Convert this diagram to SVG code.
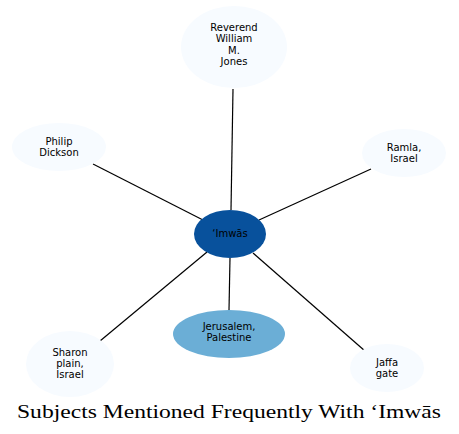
<svg xmlns="http://www.w3.org/2000/svg" width="459" height="434" viewBox="0 0 459 434">
<style>
.n text{font-family:"DejaVu Sans",sans-serif;font-size:10px;fill:#000;text-anchor:middle}
.light{fill:#f7fbff}
.e line{stroke:#000;stroke-width:1.2}
.title{font-family:"Liberation Serif",serif;font-size:19px;text-anchor:middle;fill:#000}
</style>
<rect width="459" height="434" fill="#fff"/>
<g class="e" id="edges">
<line x1="231" y1="210" x2="233" y2="89"/>
<line x1="203" y1="220" x2="93" y2="164"/>
<line x1="259" y1="220" x2="371" y2="169"/>
<line x1="207" y1="252" x2="100" y2="341"/>
<line x1="230" y1="258" x2="229" y2="310"/>
<line x1="253" y1="253" x2="365" y2="351"/>
</g>
<g class="n" id="n_imwas"><ellipse cx="230" cy="234" rx="36" ry="24" fill="#08519c"/><text x="230" y="237">‘Imwās</text></g>
<g class="n" id="n_jones"><ellipse class="light" cx="234" cy="47" rx="53" ry="41"/><text x="234" y="31">Reverend</text><text x="234" y="42">William</text><text x="234" y="53.5">M.</text><text x="234" y="65">Jones</text></g>
<g class="n" id="n_dickson"><ellipse class="light" cx="59" cy="147" rx="47" ry="24"/><text x="59" y="145">Philip</text><text x="59" y="156">Dickson</text></g>
<g class="n" id="n_ramla"><ellipse class="light" cx="404" cy="153" rx="42" ry="24"/><text x="404" y="151">Ramla,</text><text x="404" y="162">Israel</text></g>
<g class="n" id="n_sharon"><ellipse class="light" cx="70" cy="364" rx="44" ry="33"/><text x="70" y="356">Sharon</text><text x="70" y="367">plain,</text><text x="70" y="378">Israel</text></g>
<g class="n" id="n_jerusalem"><ellipse cx="229" cy="334" rx="56" ry="24" fill="#6baed6"/><text x="229" y="330">Jerusalem,</text><text x="229" y="341">Palestine</text></g>
<g class="n" id="n_jaffa"><ellipse class="light" cx="387" cy="368" rx="37" ry="24"/><text x="387" y="366">Jaffa</text><text x="387" y="377">gate</text></g>
<text class="title" x="229" y="418" textLength="424" lengthAdjust="spacingAndGlyphs">Subjects Mentioned Frequently With ‘Imwās</text>
</svg>
